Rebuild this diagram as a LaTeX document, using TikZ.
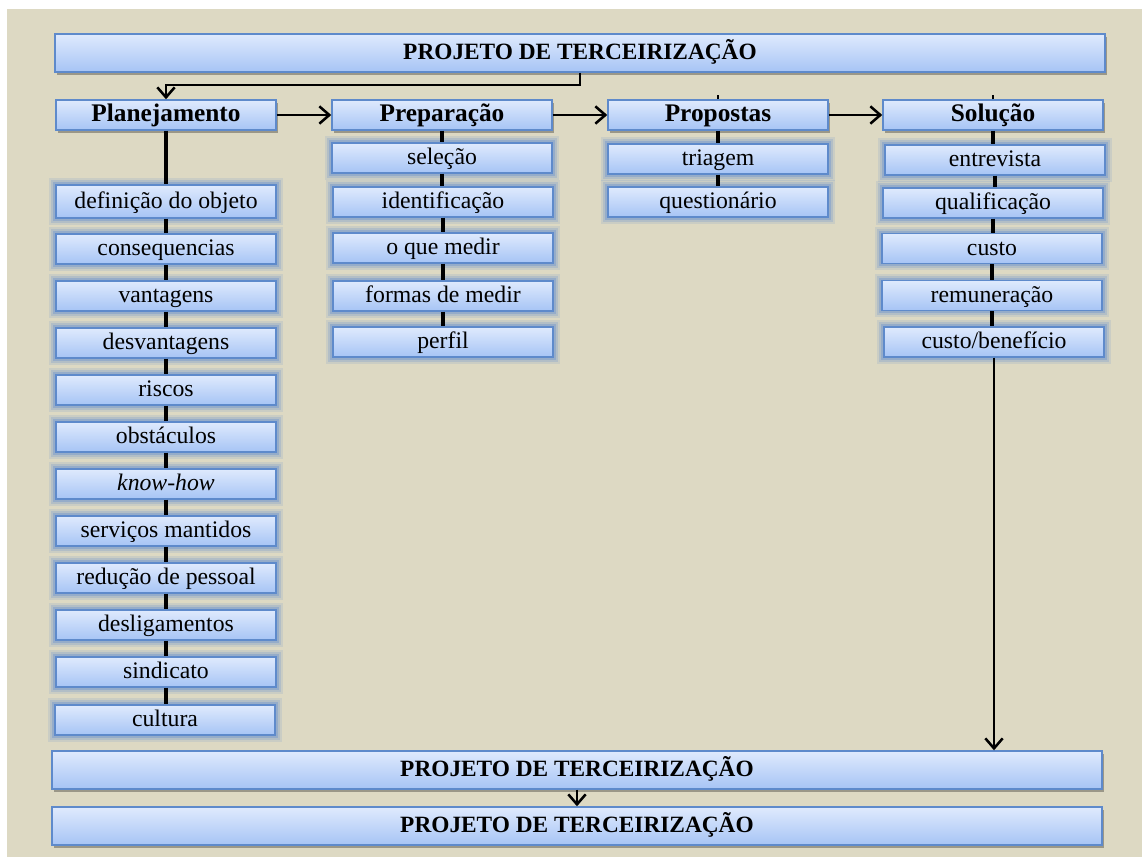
\documentclass[tikz,border=0pt]{standalone}
\usepackage{fontspec}
\setmainfont{Liberation Serif}
\usetikzlibrary{arrows.meta,shadows}
\definecolor{bg}{HTML}{DDD9C3}
\definecolor{boxtop}{HTML}{DFEAFD}
\definecolor{boxbot}{HTML}{A6C4F5}
\definecolor{boxline}{HTML}{5E8ACB}
\definecolor{glow}{HTML}{5F8DD0}
\tikzset{
  base/.style={rectangle, draw=boxline, line width=1.1pt, top color=boxtop, bottom color=boxbot, inner sep=0pt, text=black},
  title/.style={base, minimum width=1050*0.75pt, minimum height=38*0.75pt,
    font=\fontsize{17.5}{19}\selectfont\bfseries, text height=13pt, text depth=3.5pt,
    drop shadow={shadow xshift=1.5pt, shadow yshift=-2.2pt, fill=black, opacity=0.3}},
  head/.style={base, minimum width=220*0.75pt, minimum height=30*0.75pt,
    font=\fontsize{19}{21}\selectfont\bfseries, text height=14pt, text depth=4pt,
    drop shadow={shadow xshift=1.5pt, shadow yshift=-2.2pt, fill=black, opacity=0.3}},
  item/.style={base, minimum width=220*0.75pt, minimum height=30*0.75pt,
    font=\fontsize{17.8}{20}\selectfont, text height=14pt, text depth=4pt,
    preaction={draw=glow, draw opacity=0.15, line width=10pt},
    preaction={draw=glow, draw opacity=0.22, line width=7pt},
    preaction={draw=glow, draw opacity=0.35, line width=4pt}},
  link/.style={line width=2.4pt, black},
  arr/.style={line width=2.2pt, black, -{Straight Barb[length=7.5pt,width=13pt,line width=1.9pt]}}
}
\begin{document}
\begin{tikzpicture}[x=0.75pt,y=-0.75pt]
\useasboundingbox (0,0) rectangle (1142,857);
\fill[white] (0,0) rectangle (1142,857);
\fill[bg] (7,9) rectangle (1142,857);

% title boxes
\node[title] (top) at (580,53) {PROJETO DE TERCEIRIZAÇÃO};
\node[title] (b1) at (577,770) {PROJETO DE TERCEIRIZAÇÃO};
\node[title] (b2) at (577,826) {PROJETO DE TERCEIRIZAÇÃO};

% column heads
\node[head] (plan) at (166,115) {Planejamento};
\node[head] (prep) at (442,115) {Preparação};
\node[head] (prop) at (718,115) {Propostas};
\node[head] (sol) at (993,115) {Solução};

% Planejamento items
\node[item, minimum height=33*0.75pt] (p1) at (166,201.5) {definição do objeto};
\node[item] (p2) at (166,249) {consequencias};
\node[item] (p3) at (166,296) {vantagens};
\node[item] (p4) at (166,343) {desvantagens};
\node[item] (p5) at (166,390) {riscos};
\node[item] (p6) at (166,437) {obstáculos};
\node[item] (p7) at (166,484) {\itshape know-how};
\node[item] (p8) at (166,531) {serviços mantidos};
\node[item] (p9) at (166,578) {redução de pessoal};
\node[item] (p10) at (166,625) {desligamentos};
\node[item] (p11) at (166,672) {sindicato};
\node[item] (p12) at (165,720) {cultura};

% Preparação items
\node[item] (r1) at (442,158) {seleção};
\node[item] (r2) at (443,202) {identificação};
\node[item] (r3) at (443,248) {o que medir};
\node[item] (r4) at (443,296) {formas de medir};
\node[item] (r5) at (443,342) {perfil};

% Propostas items
\node[item] (q1) at (718,159) {triagem};
\node[item] (q2) at (718,202) {questionário};

% Solução items
\node[item] (s1) at (995,160) {entrevista};
\node[item] (s2) at (993,203) {qualificação};
\node[item] (s3) at (992,248.5) {custo};
\node[item] (s4) at (992,295.5) {remuneração};
\node[item] (s5) at (994,342) {custo/benefício};

% vertical links
\foreach \a/\b in {plan/p1,p1/p2,p2/p3,p3/p4,p4/p5,p5/p6,p6/p7,p7/p8,p8/p9,p9/p10,p10/p11,p11/p12,
                   prep/r1,r1/r2,r2/r3,r3/r4,r4/r5,
                   prop/q1,q1/q2,
                   sol/s1,s1/s2,s2/s3,s3/s4,s4/s5}
  \draw[link] (\a.south) -- (\a.south |- \b.north);

% small stubs above heads
\draw[line width=1.2pt] (prop.north) -- ++(0,-4);
\draw[line width=1.2pt] (sol.north) -- ++(0,-4);

% arrows
\coordinate (bend) at (580,85);
\draw[arr] (top.south) -- (bend) -| (plan.north);
\draw[arr] (plan.east) -- (plan.east -| prep.west);
\draw[arr] (prep.east) -- (prep.east -| prop.west);
\draw[arr] (prop.east) -- (prop.east -| sol.west);
\draw[arr] (s5.south) -- (s5.south |- b1.north);
\draw[arr] (b1.south) -- (b2.north);
\end{tikzpicture}
\end{document}
